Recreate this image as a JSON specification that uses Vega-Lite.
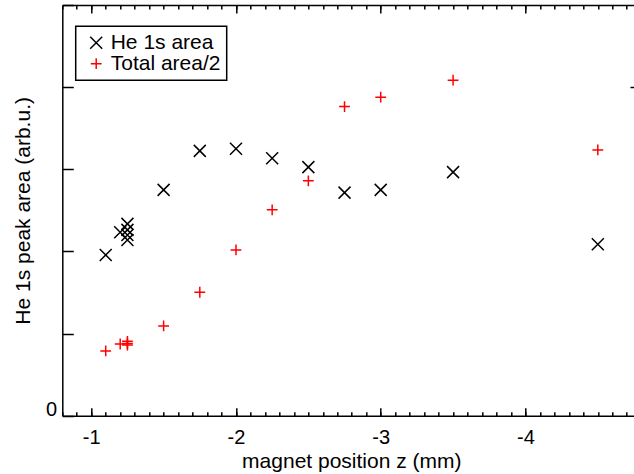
{
  "$schema": "https://vega.github.io/schema/vega-lite/v6.json",
  "width": 571.7,
  "height": 410.7,
  "autosize": {"type": "none"},
  "padding": {"left": 62.3, "top": 5, "right": 0, "bottom": 58.3},
  "background": "white",
  "config": {
    "font": "Liberation Sans",
    "view": {"stroke": null},
    "axis": {
      "domainColor": "black", "tickColor": "black", "labelColor": "black", "titleColor": "black",
      "domainWidth": 1.5, "tickWidth": 1.5, "grid": false,
      "labelFont": "Liberation Sans", "titleFont": "Liberation Sans",
      "labelFontSize": 20, "titleFontSize": 21, "titleFontWeight": "normal"
    },
    "legend": {"strokeWidth": 1.5, "labelFontSize": 21, "labelFont": "Liberation Sans", "labelLimit": 300}
  },
  "data": {
    "values": [
      {"z": -1.1, "area": 1.957, "series": "He 1s area"},
      {"z": -1.2, "area": 2.234, "series": "He 1s area"},
      {"z": -1.25, "area": 2.335, "series": "He 1s area"},
      {"z": -1.25, "area": 2.262, "series": "He 1s area"},
      {"z": -1.25, "area": 2.201, "series": "He 1s area"},
      {"z": -1.25, "area": 2.14, "series": "He 1s area"},
      {"z": -1.5, "area": 2.749, "series": "He 1s area"},
      {"z": -1.75, "area": 3.224, "series": "He 1s area"},
      {"z": -2, "area": 3.249, "series": "He 1s area"},
      {"z": -2.25, "area": 3.135, "series": "He 1s area"},
      {"z": -2.5, "area": 3.026, "series": "He 1s area"},
      {"z": -2.75, "area": 2.716, "series": "He 1s area"},
      {"z": -3, "area": 2.749, "series": "He 1s area"},
      {"z": -3.5, "area": 2.965, "series": "He 1s area"},
      {"z": -4.5, "area": 2.088, "series": "He 1s area"},
      {"z": -1.1, "area": 0.788, "series": "Total area/2"},
      {"z": -1.2, "area": 0.873, "series": "Total area/2"},
      {"z": -1.25, "area": 0.905, "series": "Total area/2"},
      {"z": -1.25, "area": 0.88, "series": "Total area/2"},
      {"z": -1.25, "area": 0.86, "series": "Total area/2"},
      {"z": -1.5, "area": 1.093, "series": "Total area/2"},
      {"z": -1.75, "area": 1.503, "series": "Total area/2"},
      {"z": -2, "area": 2.018, "series": "Total area/2"},
      {"z": -2.25, "area": 2.506, "series": "Total area/2"},
      {"z": -2.5, "area": 2.859, "series": "Total area/2"},
      {"z": -2.75, "area": 3.764, "series": "Total area/2"},
      {"z": -3, "area": 3.878, "series": "Total area/2"},
      {"z": -3.5, "area": 4.085, "series": "Total area/2"},
      {"z": -4.5, "area": 3.236, "series": "Total area/2"}
    ]
  },
  "layer": [
    {
      "mark": {"type": "point", "filled": false, "strokeWidth": 1.5, "size": 144, "opacity": 1},
      "encoding": {
        "x": {
          "field": "z", "type": "quantitative",
          "scale": {"domain": [-0.8, -4.75], "nice": false, "zero": false},
          "axis": {
            "orient": "bottom", "values": [-1, -2, -3, -4], "tickSize": -8,
            "labelPadding": 35.6, "labelBaseline": "alphabetic",
            "labelExpr": "'-' + abs(datum.value)",
            "title": "magnet position z (mm)", "titleX": 289, "titleY": 51.3,
            "titleBaseline": "alphabetic", "titleAlign": "center"
          }
        },
        "y": {
          "field": "area", "type": "quantitative",
          "scale": {"domain": [0, 5], "nice": false, "zero": true},
          "axis": {
            "orient": "left", "values": [0, 1, 2, 3, 4, 5], "tickSize": -11,
            "labelPadding": 16.6, "labelBaseline": "alphabetic",
            "labelExpr": "datum.value == 0 ? '0' : ''",
            "title": "He 1s peak area (arb.u.)", "titleX": -33, "titleY": 205.35,
            "titleBaseline": "alphabetic", "titleAlign": "center", "titleAngle": -90
          }
        },
        "shape": {
          "field": "series", "type": "nominal",
          "scale": {"domain": ["He 1s area", "Total area/2"], "range": ["M-1,-1L1,1M-1,1L1,-1", "M-0.9,0L0.9,0M0,-0.9L0,0.9"]},
          "legend": {
            "title": null, "orient": "none", "legendX": 13.4, "legendY": 21.2,
            "strokeColor": "black", "fillColor": "white", "padding": 6,
            "symbolOffset": 4, "labelOffset": 4, "labelFontSize": 21, "labelFont": "Liberation Sans",
            "labelColor": "black", "symbolSize": 144, "symbolStrokeWidth": 1.5, "rowPadding": -2
          }
        },
        "color": {
          "field": "series", "type": "nominal",
          "scale": {"domain": ["He 1s area", "Total area/2"], "range": ["#000000", "#ff0000"]},
          "legend": {
            "title": null, "orient": "none", "legendX": 13.4, "legendY": 21.2,
            "strokeColor": "black", "fillColor": "white", "padding": 6,
            "symbolOffset": 4, "labelOffset": 4, "labelFontSize": 21, "labelFont": "Liberation Sans",
            "labelColor": "black", "symbolSize": 144, "symbolStrokeWidth": 1.5, "rowPadding": -2
          }
        }
      }
    },
    {
      "mark": {"type": "point", "opacity": 0},
      "encoding": {
        "x": {
          "field": "z", "type": "quantitative",
          "axis": {
            "orient": "bottom",
            "values": [-0.8, -0.9, -1, -1.1, -1.2, -1.3, -1.4, -1.5, -1.6, -1.7, -1.8, -1.9, -2, -2.1, -2.2, -2.3, -2.4, -2.5, -2.6, -2.7, -2.8, -2.9, -3, -3.1, -3.2, -3.3, -3.4, -3.5, -3.6, -3.7, -3.8, -3.9, -4, -4.1, -4.2, -4.3, -4.4, -4.5, -4.6, -4.7],
            "tickSize": -4, "labels": false, "domain": false, "title": null
          }
        },
        "y": {"field": "area", "type": "quantitative", "axis": null}
      }
    },
    {
      "mark": {"type": "point", "opacity": 0},
      "encoding": {
        "x": {
          "field": "z", "type": "quantitative",
          "axis": {"orient": "top", "values": [-1, -2, -3, -4], "tickSize": -8, "labels": false, "domain": true, "title": null}
        },
        "y": {"field": "area", "type": "quantitative", "axis": null}
      }
    },
    {
      "mark": {"type": "point", "opacity": 0},
      "encoding": {
        "x": {
          "field": "z", "type": "quantitative",
          "axis": {
            "orient": "top",
            "values": [-0.8, -0.9, -1, -1.1, -1.2, -1.3, -1.4, -1.5, -1.6, -1.7, -1.8, -1.9, -2, -2.1, -2.2, -2.3, -2.4, -2.5, -2.6, -2.7, -2.8, -2.9, -3, -3.1, -3.2, -3.3, -3.4, -3.5, -3.6, -3.7, -3.8, -3.9, -4, -4.1, -4.2, -4.3, -4.4, -4.5, -4.6, -4.7],
            "tickSize": -4, "labels": false, "domain": false, "title": null
          }
        },
        "y": {"field": "area", "type": "quantitative", "axis": null}
      }
    },
    {
      "mark": {"type": "point", "opacity": 0},
      "encoding": {
        "x": {"field": "z", "type": "quantitative", "axis": null},
        "y": {
          "field": "area", "type": "quantitative",
          "axis": {"orient": "right", "values": [4], "tickSize": -4, "labels": false, "domain": false, "title": null}
        }
      }
    }
  ],
  "resolve": {"scale": {"x": "shared", "y": "shared"}, "axis": {"x": "independent", "y": "independent"}}
}
